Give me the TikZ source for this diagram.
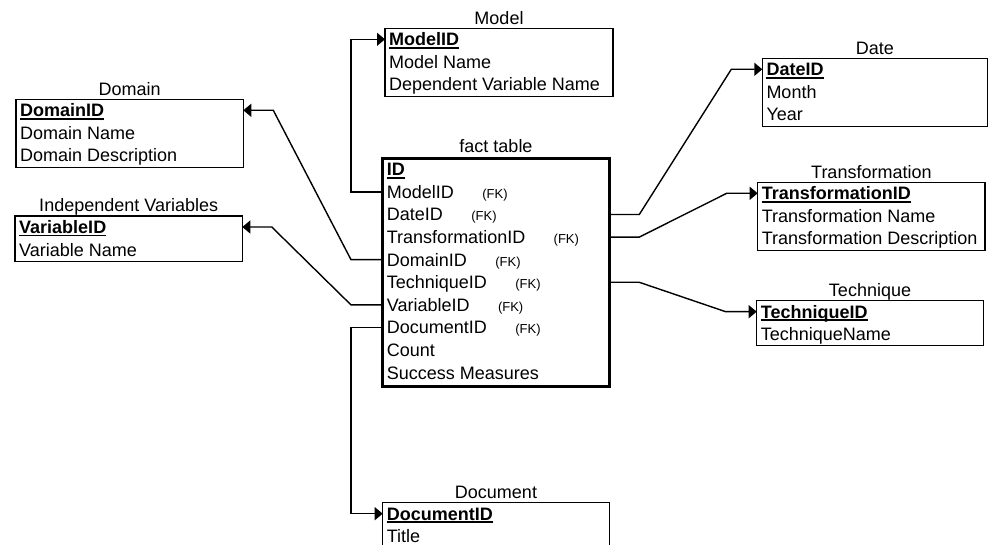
\documentclass[tikz,border=0pt]{standalone}
\usepackage{fontspec}
\setmainfont{Liberation Sans}
\usetikzlibrary{arrows.meta,positioning}

\begin{document}
\begin{tikzpicture}[x=1pt,y=-1pt,
    tbl/.style={draw,line width=1.4pt,anchor=north west,inner sep=0pt,outer sep=0pt},
    facttbl/.style={tbl,line width=3pt},
    title/.style={font=\fontsize{18}{20}\selectfont,inner sep=0pt,anchor=base},
    row/.style={font=\fontsize{18}{20}\selectfont,inner sep=0pt,anchor=base west,text height=13pt,text depth=0pt},
    keyrow/.style={row,font=\fontsize{18}{20}\selectfont\bfseries,
      append after command={([yshift=-2pt]\tikzlastnode.base west) edge[line width=1.6pt] ([yshift=-2pt]\tikzlastnode.base east)}},
    fk/.style={font=\fontsize{13}{15}\selectfont,inner sep=0pt,anchor=base west},
    link/.style={line width=1.4pt,-{Triangle[length=8pt,width=13pt]}}]

          \useasboundingbox (0,0) rectangle (989,545);
          \clip (0,0) rectangle (989,545);

          % tables
          \node[tbl,minimum width=228pt,minimum height=68.4pt] (model) at (385,28.3) {};
          \node[tbl,minimum width=227.3pt,minimum height=68pt] (domain) at (16,99.3) {};
          \node[tbl,minimum width=227.3pt,minimum height=45.7pt] (indep) at (15,216) {};
          \node[facttbl,minimum width=226.6pt,minimum height=228.4pt] (fact) at (382.7,158.3) {};
          \node[tbl,minimum width=225pt,minimum height=68.4pt] (date) at (762.3,58.3) {};
          \node[tbl,minimum width=227.3pt,minimum height=68.4pt] (transf) at (757.7,182.3) {};
          \node[tbl,minimum width=226.6pt,minimum height=45pt] (techn) at (756.7,300.7) {};
          \node[tbl,minimum width=226.6pt,minimum height=68.4pt] (docu) at (382.7,502.7) {};

          \foreach \t/\name/\gap in {model/Model/3.3, domain/Domain/3.3, indep/Independent Variables/4.3,
                                     fact/fact table/5.3, date/Date/3.3, transf/Transformation/4,
                                     techn/Technique/4, docu/Document/4.4}
            \node[title,above=\gap pt of \t.north,anchor=base] (\t-title) {\name};

          \foreach \t/\key in {model/ModelID, domain/DomainID, indep/VariableID, fact/ID, date/DateID,
                               transf/TransformationID, techn/TechniqueID, docu/DocumentID}
            \node[keyrow] (\t-0) at ([shift={(4,17.5)}]\t.north west) {\key};

          \foreach \txt [count=\i] in {Model Name, Dependent Variable Name}
            \node[row] (model-\i) at ([shift={(4,17.5+22.6*\i)}]model.north west) {\txt};
          \foreach \txt [count=\i] in {Domain Name, Domain Description}
            \node[row] (domain-\i) at ([shift={(4,17.5+22.6*\i)}]domain.north west) {\txt};
          \node[row] (indep-1) at ([shift={(4,40.1)}]indep.north west) {Variable Name};
          \foreach \txt [count=\i] in {ModelID, DateID, TransformationID, DomainID, TechniqueID,
                                       VariableID, DocumentID, Count, Success Measures}
            \node[row] (fact-\i) at ([shift={(4,17.5+22.6*\i)}]fact.north west) {\txt};
          \foreach \i in {1,...,7}
            \node[fk] (fk-\i) at ([xshift=28pt]fact-\i.base east) {(FK)};
          \foreach \txt [count=\i] in {Month, Year}
            \node[row] (date-\i) at ([shift={(4,17.5+22.6*\i)}]date.north west) {\txt};
          \foreach \txt [count=\i] in {Transformation Name, Transformation Description}
            \node[row] (transf-\i) at ([shift={(4,17.5+22.6*\i)}]transf.north west) {\txt};
          \node[row] (techn-1) at ([shift={(4,40.1)}]techn.north west) {TechniqueName};
          \node[row] (docu-1) at ([shift={(4,40.1)}]docu.north west) {Title};

          % links
          \draw[link] (fact.west |- fact-1) -- ++(-31.7,0) |- (model.west |- model-0);
          \draw[link] (fact.west |- fact-4) -- ++(-31.7,0) -- ([xshift=30pt]domain.east |- domain-0) -- (domain.east |- domain-0);
          \draw[link] (fact.west |- fact-6) -- ++(-31.7,0) -- ([xshift=29.5pt]indep.east |- indep-0) -- (indep.east |- indep-0);
          \draw[link] (fact.west |- fact-7) -- ++(-31.7,0) |- (docu.west |- docu-0);
          \draw[link] (fact.east |- fact-2) -- ++(30,0) -- ([xshift=-31pt]date.west |- date-0) -- (date.west |- date-0);
          \draw[link] (fact.east |- fact-3) -- ++(30,0) -- ([xshift=-31pt]transf.west |- transf-0) -- (transf.west |- transf-0);
          \draw[link] (fact.east |- fact-5) -- ++(30,0) -- ([xshift=-31pt]techn.west |- techn-0) -- (techn.west |- techn-0);
        \end{tikzpicture}
\end{document}
